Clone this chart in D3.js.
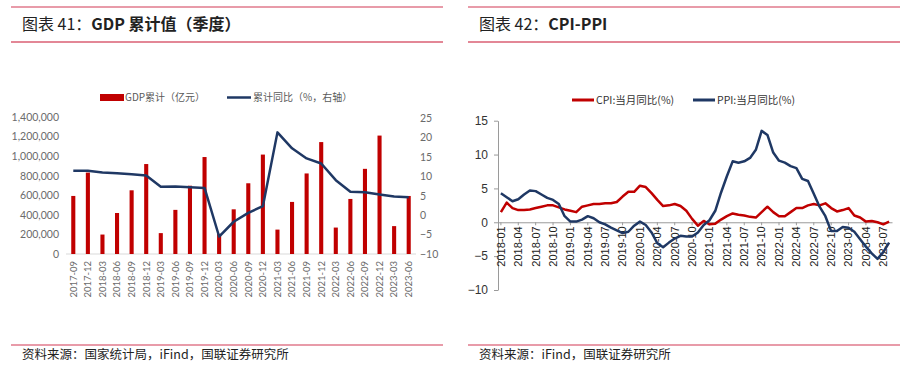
<!DOCTYPE html>
<html>
<head>
<meta charset="utf-8">
<script src="https://cdn.jsdelivr.net/npm/d3@7"></script>
<style>
  body { margin: 0; background: #fff; }
  svg { display: block; }
</style>
</head>
<body>
<svg id="chart" width="913" height="369"></svg>
<script>
// GDP 累计值 (季度)
var gdpQuarters = ['2017-09','2017-12','2018-03','2018-06','2018-09','2018-12',
	'2019-03','2019-06','2019-09','2019-12','2020-03','2020-06','2020-09','2020-12',
	'2021-03','2021-06','2021-09','2021-12','2022-03','2022-06','2022-09','2022-12',
	'2023-03','2023-06'];
var gdpValues = [593288, 832036, 198783, 418961, 650899, 919281,
	213433, 450933, 697798, 990865, 206504, 456614, 722786, 1015986,
	249310, 532167, 823131, 1143670, 270178, 562642, 870269, 1210207,
	284997, 593034];
var gdpYoY = [11.4, 11.4, 11.0, 10.8, 10.5, 10.2, 7.3, 7.4, 7.2, 7.0, -5.5, -1.7,
	0.6, 2.3, 21.3, 17.2, 14.6, 13.3, 9.0, 6.0, 5.9, 5.3, 4.8, 4.6];
var gdpLeftTicks = [0, 200000, 400000, 600000, 800000, 1000000, 1200000, 1400000];
var gdpRightTicks = [-10, -5, 0, 5, 10, 15, 20, 25];

// CPI-PPI (月度, 2018-01 ~ 2023-08)
var cpiValues = [1.5, 2.9, 2.1, 1.8, 1.8, 1.9, 2.1, 2.3, 2.5, 2.5, 2.2, 1.9,
	1.7, 1.5, 2.3, 2.5, 2.7, 2.7, 2.8, 2.8, 3.0, 3.8, 4.5, 4.5,
	5.4, 5.2, 4.3, 3.3, 2.4, 2.5, 2.7, 2.4, 1.7, 0.5, -0.5, 0.2,
	-0.3, -0.2, 0.4, 0.9, 1.3, 1.1, 1.0, 0.8, 0.7, 1.5, 2.3, 1.5,
	0.9, 0.9, 1.5, 2.1, 2.1, 2.5, 2.7, 2.5, 2.8, 2.1, 1.6, 1.8,
	2.1, 1.0, 0.7, 0.1, 0.2, 0.0, -0.3, 0.1];
var ppiValues = [4.3, 3.7, 3.1, 3.4, 4.1, 4.7, 4.6, 4.1, 3.6, 3.3, 2.7, 0.9,
	0.1, 0.1, 0.4, 0.9, 0.6, 0.0, -0.3, -0.8, -1.2, -1.6, -1.4, -0.5,
	0.1, -0.4, -1.5, -3.1, -3.7, -3.0, -2.4, -2.0, -2.1, -2.1, -1.5, -0.4,
	0.3, 1.7, 4.4, 6.8, 9.0, 8.8, 9.0, 9.5, 10.7, 13.5, 12.9, 10.3,
	9.1, 8.8, 8.3, 8.0, 6.4, 6.1, 4.2, 2.3, 0.9, -1.3, -1.3, -0.7,
	-0.8, -1.4, -2.5, -3.6, -4.6, -5.4, -4.4, -3.0];
var cpiMonths = d3.utcMonth.range(new Date(Date.UTC(2018, 0, 1)), new Date(Date.UTC(2023, 8, 1)))
	.map(d3.utcFormat('%Y-%m'));
var cpiTicks = [-10, -5, 0, 5, 10, 15];

var RED = '#c00000';
var NAVY = '#1f3864';
var CJK = '"Noto Sans CJK SC", sans-serif';

var svg = d3.select('#chart');

// headers and footers
function header(x1, x2, num, bold) {
	svg.append('line').attr('x1', x1).attr('x2', x2).attr('y1', 7).attr('y2', 7)
		.attr('stroke', '#e07a8c').attr('stroke-width', 1.5);
	svg.append('line').attr('x1', x1).attr('x2', x2).attr('y1', 42).attr('y2', 42)
		.attr('stroke', '#c8102e').attr('stroke-width', 1.2);
	var t = svg.append('text').attr('x', x1 + 11).attr('y', 30)
		.attr('font-family', CJK).attr('font-size', 16).attr('fill', '#222');
	t.append('tspan').text('图表 ' + num + '：');
	t.append('tspan').attr('font-weight', 'bold').text(bold);
}
function footer(x1, x2, txt) {
	svg.append('line').attr('x1', x1).attr('x2', x2).attr('y1', 345).attr('y2', 345)
		.attr('stroke', '#e07a8c').attr('stroke-width', 1.5);
	svg.append('text').attr('x', x1 + 11).attr('y', 359)
		.attr('font-family', CJK).attr('font-size', 12.5).attr('fill', '#222')
		.text(txt);
}
header(11, 443, '41', 'GDP 累计值（季度）');
header(468, 900, '42', 'CPI-PPI');
footer(11, 443, '资料来源：国家统计局，iFind，国联证券研究所');
footer(468, 900, '资料来源：iFind，国联证券研究所');

// ---------- left chart ----------
function DrawGdp() {
	var x = d3.scaleBand().domain(gdpQuarters).range([66, 416])
		.paddingInner(0.72).paddingOuter(0.36);
	var yL = d3.scaleLinear().domain([0, 1400000]).range([254, 117]);
	var yR = d3.scaleLinear().domain([-10, 25]).range([254, 118]);
	var g = svg.append('g');

	g.append('line').attr('x1', 66).attr('x2', 416).attr('y1', 254).attr('y2', 254)
		.attr('stroke', '#d9d9d9');

	var axL = g.append('g').attr('transform', 'translate(66,0)')
		.call(d3.axisLeft(yL).tickValues(gdpLeftTicks).tickSize(0).tickPadding(7)
			.tickFormat(d3.format(',')));
	var axR = g.append('g').attr('transform', 'translate(416,0)')
		.call(d3.axisRight(yR).tickValues(gdpRightTicks).tickSize(0).tickPadding(4));
	[axL, axR].forEach(function(a) {
		a.select('.domain').remove();
		a.selectAll('text').attr('font-family', 'Lato, sans-serif').attr('font-size', 10.5)
			.attr('fill', '#6b6b6b');
	});

	var axB = g.append('g').attr('transform', 'translate(0,254)')
		.call(d3.axisBottom(x).tickSize(0).tickPadding(0));
	axB.select('.domain').remove();
	axB.selectAll('text')
		.attr('transform', 'translate(0,7) rotate(-90)')
		.attr('dy', '0.35em').attr('x', 0).attr('y', 0)
		.style('text-anchor', 'end')
		.attr('font-family', 'Lato, sans-serif').attr('font-size', 9.5).attr('fill', '#6b6b6b');

	g.selectAll('.bar').data(gdpValues).enter().append('rect')
		.attr('class', 'bar')
		.attr('x', function(d, i) { return x(gdpQuarters[i]); })
		.attr('width', x.bandwidth())
		.attr('y', function(d) { return yL(d); })
		.attr('height', function(d) { return 254 - yL(d); })
		.attr('fill', RED);

	var line = d3.line()
		.x(function(d, i) { return x(gdpQuarters[i]) + x.bandwidth() / 2; })
		.y(function(d) { return yR(d); });
	g.append('path').datum(gdpYoY).attr('d', line)
		.attr('fill', 'none').attr('stroke', NAVY).attr('stroke-width', 2.5)
		.attr('stroke-linejoin', 'round');

	// legend
	g.append('rect').attr('x', 100).attr('y', 94).attr('width', 24).attr('height', 7).attr('fill', RED);
	g.append('text').attr('x', 125).attr('y', 101).text('GDP累计（亿元）')
		.attr('font-family', CJK).attr('font-size', 10).attr('fill', '#595959');
	g.append('line').attr('x1', 227).attr('x2', 251).attr('y1', 97.5).attr('y2', 97.5)
		.attr('stroke', NAVY).attr('stroke-width', 2.5);
	g.append('text').attr('x', 253).attr('y', 101).text('累计同比（%，右轴）')
		.attr('font-family', CJK).attr('font-size', 10).attr('fill', '#595959');
}

// ---------- right chart ----------
function DrawCpi() {
	var x = d3.scaleBand().domain(cpiMonths).range([498, 892]);
	var y = d3.scaleLinear().domain([-10, 15]).range([290, 120.7]);
	var g = svg.append('g');

	var axY = g.append('g').attr('transform', 'translate(498,0)')
		.call(d3.axisLeft(y).tickValues(cpiTicks).tickSize(4).tickPadding(6).tickSizeOuter(0));
	axY.selectAll('line, path').attr('stroke', '#9a9a9a');
	axY.selectAll('text').attr('font-family', '"Liberation Sans", Arial, sans-serif')
		.attr('font-size', 12).attr('fill', '#333');

	var labelMonths = cpiMonths.filter(function(m, i) { return i % 3 === 0; });
	var axX = g.append('g').attr('transform', 'translate(0,' + y(0) + ')')
		.call(d3.axisBottom(x).tickValues(labelMonths).tickSize(3).tickSizeOuter(0));
	axX.selectAll('line, path').attr('stroke', '#9a9a9a');
	axX.selectAll('text')
		.attr('transform', 'translate(0,4) rotate(-90)')
		.attr('dy', '0.35em').attr('x', 0).attr('y', 0)
		.style('text-anchor', 'end')
		.attr('font-family', '"Liberation Sans", Arial, sans-serif')
		.attr('font-size', 11).attr('fill', '#222');

	var line = d3.line()
		.x(function(d, i) { return x(cpiMonths[i]) + x.bandwidth() / 2; })
		.y(function(d) { return y(d); });
	g.append('path').datum(cpiValues).attr('d', line)
		.attr('fill', 'none').attr('stroke', RED).attr('stroke-width', 2.5)
		.attr('stroke-linejoin', 'round');
	g.append('path').datum(ppiValues).attr('d', line)
		.attr('fill', 'none').attr('stroke', NAVY).attr('stroke-width', 2.5)
		.attr('stroke-linejoin', 'round');

	// legend
	g.append('line').attr('x1', 572).attr('x2', 594).attr('y1', 100).attr('y2', 100)
		.attr('stroke', RED).attr('stroke-width', 3);
	g.append('text').attr('x', 596).attr('y', 104).text('CPI:当月同比(%)')
		.attr('font-family', CJK).attr('font-size', 10.5).attr('fill', '#333');
	g.append('line').attr('x1', 693).attr('x2', 715).attr('y1', 100).attr('y2', 100)
		.attr('stroke', NAVY).attr('stroke-width', 3);
	g.append('text').attr('x', 717).attr('y', 104).text('PPI:当月同比(%)')
		.attr('font-family', CJK).attr('font-size', 10.5).attr('fill', '#333');
}

DrawGdp();
DrawCpi();
</script>
</body>
</html>
